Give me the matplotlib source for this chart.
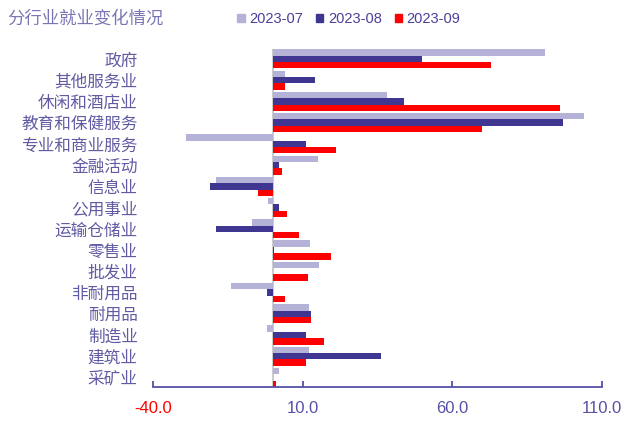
import numpy as np
import matplotlib
matplotlib.use('Agg')
import matplotlib.pyplot as plt
from matplotlib.patches import Patch

plt.rcParams['font.family'] = ['Noto Sans CJK SC', 'DejaVu Sans']

# top to bottom
categories = ['政府', '其他服务业', '休闲和酒店业', '教育和保健服务', '专业和商业服务',
              '金融活动', '信息业', '公用事业', '运输仓储业', '零售业', '批发业',
              '非耐用品', '耐用品', '制造业', '建筑业', '采矿业']
jul = [91, 4, 38, 104, -29, 15, -19, -1.5, -7, 12.6, 15.3, -14, 12, -2, 12, 2]
aug = [50, 14, 44, 97, 11, 2, -21, 2.2, -19, 0.4, 0.2, -2, 12.8, 11, 36, 0.2]
sep = [73, 4, 96, 70, 21, 3, -5, 4.7, 8.6, 19.6, 11.7, 4, 12.8, 17, 11, 1]
series_names = ['2023-07', '2023-08', '2023-09']
xticks = [-40, 10, 60, 110]

c_jul = '#B5B2D8'
c_aug = '#3F3692'
c_sep = '#FF0000'
purple = '#5650A6'
label_col = '#605BA3'

fig = plt.figure(figsize=(6.22, 4.22), dpi=100)
ax = fig.add_axes([0.246, 0.083, 0.722, 0.801])

n = len(categories)
y = np.arange(n)[::-1]
h = 0.3
ax.barh(y + h, jul, height=h, color=c_jul, zorder=2)
ax.barh(y, aug, height=h, color=c_aug, zorder=2)
ax.barh(y - h, sep, height=h, color=c_sep, zorder=2)

ax.axvline(0, color='#CCCCCC', lw=1.5, zorder=1)

ax.set_xlim(-40, 110)
ax.set_ylim(-0.45, n - 1 + 0.47)

ax.set_yticks(y)
ax.set_yticklabels(categories, fontsize=12, color=label_col)
ax.tick_params(axis='y', length=0, pad=11)

ax.set_xticks(xticks)
ax.set_xticklabels([f'{t:.1f}' for t in xticks], fontsize=12,
                   family=['Liberation Sans', 'DejaVu Sans'])
for lab, t in zip(ax.get_xticklabels(), xticks):
    lab.set_color(c_sep if t < 0 else purple)
ax.tick_params(axis='x', direction='in', length=4, width=1.3, color=purple, pad=10)

for s in ['top', 'right', 'left']:
    ax.spines[s].set_visible(False)
ax.spines['bottom'].set_color(purple)
ax.spines['bottom'].set_linewidth(1.3)

fig.text(0.011, 0.955, '分行业就业变化情况', fontsize=12.5, color='#7A75B3',
         va='center', ha='left')

handles = [Patch(color=c) for c in (c_jul, c_aug, c_sep)]
leg = fig.legend(handles, series_names, loc='center left',
                 bbox_to_anchor=(0.37, 0.955), ncol=3, frameon=False,
                 handlelength=0.5, handleheight=0.5, handletextpad=0.3,
                 columnspacing=0.9, borderpad=0,
                 prop={'family': ['Liberation Sans', 'DejaVu Sans'], 'size': 10.5})
for t in leg.get_texts():
    t.set_color('#4A3F99')

fig.savefig('out.png', dpi=100)
